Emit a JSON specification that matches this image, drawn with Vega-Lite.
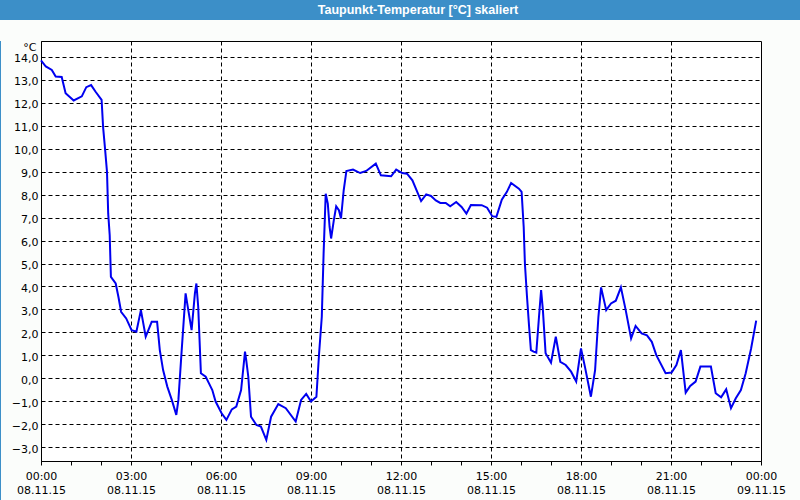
{
  "$schema": "https://vega.github.io/schema/vega-lite/v6.json",
  "padding": 0,
  "background": "#fbfdfb",
  "config": {"concat": {"spacing": 0}, "font": "DejaVu Sans"},
  "spacing": 0,
  "vconcat": [
    {
      "width": 800,
      "height": 20,
      "view": {"fill": "#3c8fc8", "stroke": null},
      "data": {"values": [{"title": "Taupunkt-Temperatur [°C] skaliert"}]},
      "mark": {"type": "text", "color": "white", "font": "Liberation Sans", "fontSize": 12.5, "fontWeight": "bold", "dx": 18, "baseline": "middle"},
      "encoding": {"text": {"field": "title", "type": "nominal"}}
    },
    {
      "spacing": 0,
      "hconcat": [
        {
          "width": 1,
          "height": 478,
          "view": {"fill": "#3c8fc8", "stroke": null},
          "data": {"values": [{}]},
          "mark": {"type": "text", "text": ""}
        },
        {
          "width": 720,
          "height": 420,
          "view": {"fill": "white", "stroke": "black", "strokeWidth": 1},
          "data": {"values": [
            {"h":0.0,"v":13.85},{"h":0.16,"v":13.58},{"h":0.36,"v":13.43},{"h":0.49,"v":13.14},{"h":0.69,"v":13.12},
            {"h":0.82,"v":12.42},{"h":1.09,"v":12.10},{"h":1.36,"v":12.28},{"h":1.51,"v":12.68},{"h":1.67,"v":12.77},
            {"h":1.82,"v":12.48},{"h":2.02,"v":12.13},{"h":2.07,"v":10.94},{"h":2.13,"v":10.07},{"h":2.20,"v":8.99},
            {"h":2.24,"v":7.17},{"h":2.29,"v":6.23},{"h":2.33,"v":4.42},{"h":2.49,"v":4.13},{"h":2.58,"v":3.55},
            {"h":2.67,"v":2.90},{"h":2.84,"v":2.61},{"h":3.02,"v":2.10},{"h":3.18,"v":2.03},{"h":3.33,"v":2.97},
            {"h":3.49,"v":1.81},{"h":3.69,"v":2.46},{"h":3.87,"v":2.46},{"h":3.96,"v":1.23},{"h":4.07,"v":0.36},
            {"h":4.21,"v":-0.36},{"h":4.36,"v":-0.94},{"h":4.51,"v":-1.59},{"h":4.58,"v":-0.94},{"h":4.69,"v":1.23},
            {"h":4.82,"v":3.70},{"h":4.91,"v":2.97},{"h":5.02,"v":2.10},{"h":5.13,"v":3.70},{"h":5.18,"v":4.13},
            {"h":5.24,"v":3.12},{"h":5.33,"v":0.22},{"h":5.49,"v":0.07},{"h":5.60,"v":-0.22},{"h":5.71,"v":-0.51},
            {"h":5.82,"v":-1.01},{"h":6.02,"v":-1.52},{"h":6.18,"v":-1.81},{"h":6.36,"v":-1.35},{"h":6.51,"v":-1.23},
            {"h":6.67,"v":-0.51},{"h":6.80,"v":1.16},{"h":6.84,"v":0.80},{"h":6.91,"v":0.07},{"h":7.00,"v":-1.67},
            {"h":7.18,"v":-2.03},{"h":7.33,"v":-2.10},{"h":7.51,"v":-2.68},{"h":7.67,"v":-1.67},{"h":7.91,"v":-1.12},
            {"h":8.16,"v":-1.30},{"h":8.49,"v":-1.88},{"h":8.67,"v":-0.94},{"h":8.84,"v":-0.68},{"h":9.00,"v":-1.01},
            {"h":9.18,"v":-0.80},{"h":9.27,"v":1.09},{"h":9.36,"v":2.68},{"h":9.42,"v":5.43},{"h":9.49,"v":8.04},
            {"h":9.56,"v":7.61},{"h":9.62,"v":6.59},{"h":9.67,"v":6.09},{"h":9.76,"v":6.88},{"h":9.84,"v":7.49},
            {"h":9.93,"v":7.32},{"h":10.00,"v":6.96},{"h":10.09,"v":8.19},{"h":10.18,"v":9.03},{"h":10.40,"v":9.09},
            {"h":10.64,"v":8.94},{"h":10.84,"v":9.03},{"h":11.16,"v":9.35},{"h":11.33,"v":8.84},{"h":11.67,"v":8.80},
            {"h":11.84,"v":9.09},{"h":12.04,"v":8.94},{"h":12.20,"v":8.91},{"h":12.38,"v":8.62},{"h":12.67,"v":7.72},
            {"h":12.84,"v":8.01},{"h":13.00,"v":7.94},{"h":13.16,"v":7.75},{"h":13.31,"v":7.64},{"h":13.49,"v":7.64},
            {"h":13.64,"v":7.49},{"h":13.84,"v":7.68},{"h":14.02,"v":7.46},{"h":14.18,"v":7.17},{"h":14.33,"v":7.55},
            {"h":14.69,"v":7.54},{"h":14.87,"v":7.43},{"h":15.04,"v":7.06},{"h":15.18,"v":7.03},{"h":15.36,"v":7.78},
            {"h":15.53,"v":8.12},{"h":15.67,"v":8.51},{"h":15.93,"v":8.26},{"h":16.02,"v":8.12},{"h":16.09,"v":6.59},
            {"h":16.13,"v":5.00},{"h":16.20,"v":3.55},{"h":16.27,"v":2.25},{"h":16.33,"v":1.23},{"h":16.42,"v":1.16},
            {"h":16.51,"v":1.12},{"h":16.60,"v":2.68},{"h":16.67,"v":3.84},{"h":16.73,"v":2.97},{"h":16.82,"v":1.09},
            {"h":17.00,"v":0.68},{"h":17.16,"v":1.81},{"h":17.31,"v":0.72},{"h":17.49,"v":0.58},{"h":17.67,"v":0.29},
            {"h":17.84,"v":-0.14},{"h":18.00,"v":1.30},{"h":18.13,"v":0.51},{"h":18.33,"v":-0.80},{"h":18.47,"v":0.36},
            {"h":18.58,"v":2.68},{"h":18.67,"v":3.96},{"h":18.84,"v":2.97},{"h":19.00,"v":3.26},{"h":19.16,"v":3.38},
            {"h":19.33,"v":3.96},{"h":19.49,"v":2.97},{"h":19.67,"v":1.74},{"h":19.82,"v":2.28},{"h":20.02,"v":1.96},
            {"h":20.20,"v":1.87},{"h":20.36,"v":1.59},{"h":20.51,"v":1.01},{"h":20.82,"v":0.22},{"h":21.02,"v":0.25},
            {"h":21.18,"v":0.58},{"h":21.33,"v":1.23},{"h":21.49,"v":-0.62},{"h":21.64,"v":-0.33},{"h":21.82,"v":-0.14},
            {"h":21.98,"v":0.51},{"h":22.33,"v":0.51},{"h":22.49,"v":-0.65},{"h":22.67,"v":-0.83},{"h":22.84,"v":-0.48},
            {"h":23.00,"v":-1.30},{"h":23.16,"v":-0.87},{"h":23.33,"v":-0.51},{"h":23.49,"v":0.22},{"h":23.67,"v":1.30},
            {"h":23.84,"v":2.51}
          ]},
          "resolve": {"axis": {"x": "independent", "y": "independent"}},
          "layer": [
            {
              "mark": {"type": "line", "color": "#0000f0", "strokeWidth": 2, "interpolate": "linear"},
              "encoding": {
                "x": {
                  "field": "h", "type": "quantitative",
                  "scale": {"domain": [0, 24], "nice": false, "zero": false},
                  "axis": {
                    "orient": "bottom",
                    "title": null,
                    "values": [0,1,2,3,4,5,6,7,8,9,10,11,12,13,14,15,16,17,18,19,20,21,22,23,24],
                    "labelExpr": "datum.value % 3 == 0 ? [(datum.value % 24 < 10 ? '0' : '') + (datum.value % 24) + ':00', datum.value < 24 ? '08.11.15' : '09.11.15'] : ''",
                    "labelOverlap": false,
                    "labelFlush": false,
                    "labelFont": "DejaVu Sans",
                    "labelFontSize": 11,
                    "labelColor": "black",
                    "labelBaseline": "top",
                    "labelLineHeight": 14,
                    "labelPadding": 5,
                    "tickSize": 4,
                    "tickColor": "black",
                    "domainColor": "black",
                    "grid": true,
                    "gridColor": "black",
                    "gridDash": [4, 3],
                    "gridOpacity": {"condition": {"test": "datum.value % 3 == 0 && datum.value > 0 && datum.value < 24", "value": 1}, "value": 0},
                    "minExtent": 38,
                    "maxExtent": 38
                  }
                },
                "y": {
                  "field": "v", "type": "quantitative",
                  "scale": {"domain": [-3.6, 14.69], "nice": false, "zero": false},
                  "axis": {
                    "orient": "left",
                    "title": "°C",
                    "titleAngle": 0,
                    "titleAlign": "right",
                    "titleBaseline": "alphabetic",
                    "titleX": -5,
                    "titleY": 9,
                    "titleFont": "DejaVu Sans",
                    "titleFontSize": 11,
                    "titleFontWeight": "normal",
                    "titleColor": "black",
                    "values": [-3,-2,-1,0,1,2,3,4,5,6,7,8,9,10,11,12,13,14],
                    "labelExpr": "replace(format(datum.value, '.1f'), '.', ',')",
                    "labelFont": "DejaVu Sans",
                    "labelFontSize": 11,
                    "labelColor": "black",
                    "labelPadding": 3,
                    "labelBaseline": "middle",
                    "labelOffset": 2,
                    "labelOverlap": false,
                    "ticks": false,
                    "domainColor": "black",
                    "grid": true,
                    "gridColor": "black",
                    "gridDash": [4, 3],
                    "minExtent": 39,
                    "maxExtent": 39
                  }
                }
              }
            },
            {
              "mark": {"type": "line", "opacity": 0},
              "encoding": {
                "x": {
                  "field": "h", "type": "quantitative",
                  "scale": {"domain": [0, 24], "nice": false, "zero": false},
                  "axis": {"orient": "top", "title": null, "labels": false, "ticks": false, "domain": false, "grid": false, "minExtent": 20, "maxExtent": 20}
                },
                "y": {
                  "field": "v", "type": "quantitative",
                  "scale": {"domain": [-3.6, 14.69], "nice": false, "zero": false},
                  "axis": {"orient": "right", "title": null, "labels": false, "ticks": false, "domain": false, "grid": false, "minExtent": 39, "maxExtent": 39}
                }
              }
            }
          ]
        },
        {
          "width": 1,
          "height": 478,
          "view": {"fill": "#3c8fc8", "stroke": null},
          "data": {"values": [{}]},
          "mark": {"type": "text", "text": ""}
        }
      ]
    },
    {
      "width": 800,
      "height": 2,
      "view": {"fill": "#3c8fc8", "stroke": null},
      "data": {"values": [{}]},
      "mark": {"type": "text", "text": ""}
    }
  ]
}
